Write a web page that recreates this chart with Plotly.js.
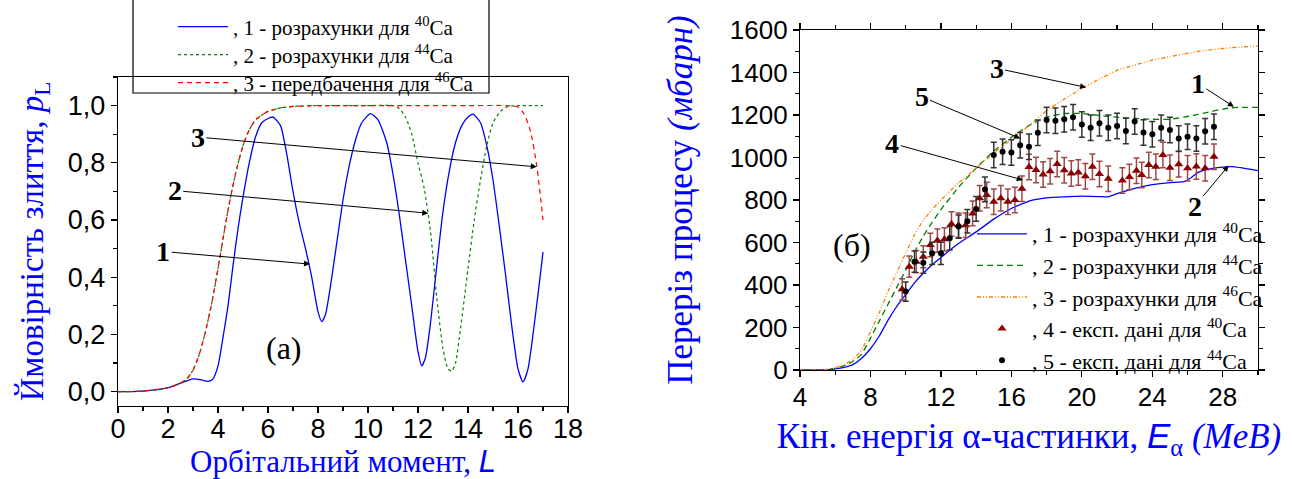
<!DOCTYPE html>
<html>
<head>
<meta charset="utf-8">
<script src="https://cdn.plot.ly/plotly-3.0.1.min.js"></script>
<style>
  html, body { margin: 0; padding: 0; background: #fff; }
  #chart { width: 1292px; height: 479px; }
</style>
</head>
<body>
<div id="chart"></div>
<script>
// ---- (а) fusion probability vs orbital momentum ----
const L_ca40 = [0, 0.5, 1.0, 1.5, 2.0, 2.5, 3.0, 3.3, 3.6, 3.8, 4.0, 4.2, 4.4, 4.6, 4.8, 5.0, 5.25, 5.5, 5.75, 6.0, 6.2, 6.5, 6.75, 7.0, 7.25, 7.5, 7.75, 8.0, 8.15, 8.3, 8.5, 8.75, 9.0, 9.25, 9.5, 9.75, 10.1, 10.4, 10.75, 11.0, 11.25, 11.5, 11.75, 12.0, 12.15, 12.3, 12.5, 12.75, 13.0, 13.25, 13.5, 13.75, 14.0, 14.2, 14.5, 14.75, 15.0, 15.25, 15.5, 15.75, 16.0, 16.2, 16.4, 16.6, 16.8, 17.0];
const p_ca40 = [0, 0.0005, 0.002, 0.006, 0.014, 0.03, 0.045, 0.042, 0.036, 0.045, 0.09, 0.19, 0.30, 0.44, 0.57, 0.68, 0.80, 0.89, 0.94, 0.955, 0.96, 0.93, 0.83, 0.70, 0.59, 0.50, 0.40, 0.28, 0.245, 0.27, 0.37, 0.52, 0.67, 0.79, 0.88, 0.94, 0.972, 0.95, 0.87, 0.76, 0.62, 0.46, 0.30, 0.14, 0.09, 0.12, 0.24, 0.44, 0.63, 0.77, 0.87, 0.93, 0.96, 0.97, 0.94, 0.86, 0.74, 0.58, 0.41, 0.23, 0.08, 0.034, 0.08, 0.20, 0.34, 0.488];

const L_ca44 = [0, 1.0, 2.0, 2.5, 2.75, 3.0, 3.25, 3.5, 3.75, 4.0, 4.25, 4.5, 4.75, 5.0, 5.25, 5.5, 6.0, 6.5, 7.0, 8.0, 9.0, 10.0, 11.0, 11.25, 11.5, 11.75, 12.0, 12.25, 12.5, 12.75, 13.0, 13.2, 13.35, 13.5, 13.7, 14.0, 14.25, 14.5, 14.75, 15.0, 15.3, 15.6, 16.0, 17.0];
const p_ca44 = [0, 0.002, 0.014, 0.03, 0.045, 0.075, 0.13, 0.21, 0.31, 0.43, 0.56, 0.68, 0.78, 0.86, 0.915, 0.95, 0.98, 0.992, 0.997, 1.0, 1.0, 1.0, 1.0, 0.99, 0.96, 0.90, 0.80, 0.71, 0.56, 0.33, 0.15, 0.08, 0.072, 0.10, 0.22, 0.43, 0.60, 0.74, 0.86, 0.94, 0.98, 0.997, 1.0, 1.0];

const L_ca46 = [0, 1.0, 2.0, 2.5, 2.75, 3.0, 3.25, 3.5, 3.75, 4.0, 4.25, 4.5, 4.75, 5.0, 5.25, 5.5, 6.0, 6.5, 7.0, 8.0, 10.0, 12.0, 14.0, 15.5, 16.0, 16.25, 16.5, 16.75, 17.0];
const p_ca46 = [0, 0.002, 0.014, 0.03, 0.045, 0.075, 0.13, 0.21, 0.31, 0.43, 0.56, 0.68, 0.78, 0.86, 0.915, 0.95, 0.98, 0.992, 0.997, 1.0, 1.0, 1.0, 1.0, 1.0, 0.995, 0.97, 0.91, 0.79, 0.60];

// ---- (б) fusion cross-section vs alpha energy ----
const E_calc = [4, 5, 5.5, 6, 6.5, 7, 7.5, 8, 8.5, 9, 9.5, 10, 10.5, 11, 11.5, 12, 13, 14, 15, 16, 17, 18, 19, 20, 21, 21.5, 22, 23, 24, 25, 25.8, 26.2, 26.6, 27, 28, 28.5, 29, 30];
const sigma_ca40 = [0, 0, 1, 5, 12, 25, 55, 100, 160, 235, 300, 355, 410, 455, 495, 530, 595, 650, 710, 760, 795, 810, 815, 818, 816, 815, 830, 855, 872, 882, 886, 905, 930, 942, 955, 957, 952, 938];
const sigma_ca44 = [0, 0, 2, 8, 20, 40, 75, 150, 230, 310, 390, 470, 555, 630, 695, 755, 860, 950, 1030, 1095, 1150, 1190, 1207, 1207, 1198, 1193, 1190, 1184, 1180, 1180, 1190, 1196, 1203, 1210, 1228, 1234, 1236, 1236];
const sigma_ca46 = [0, 0, 3, 10, 25, 50, 95, 180, 270, 370, 460, 550, 635, 705, 755, 800, 880, 950, 1020, 1085, 1150, 1220, 1275, 1325, 1370, 1390, 1410, 1435, 1458, 1475, 1487, 1493, 1499, 1504, 1513, 1517, 1520, 1525];

const E_exp40 = [9.8, 10.2, 10.6, 11.0, 11.4, 11.8, 12.2, 12.6, 13.0, 13.4, 13.8, 14.2, 14.6, 15.0, 15.4, 15.8, 16.2, 16.6, 17.0, 17.4, 17.8, 18.2, 18.6, 19.0, 19.4, 19.8, 20.2, 20.6, 21.0, 21.5, 22.3, 22.7, 23.1, 23.4, 23.8, 24.2, 24.6, 25.0, 25.5, 26.0, 26.5, 27.0, 27.5];
const sigma_exp40 = [380, 486, 510, 533, 588, 609, 615, 687, 681, 681, 737, 808, 823, 792, 808, 792, 800, 853, 955, 941, 920, 935, 970, 940, 925, 930, 912, 957, 922, 900, 892, 908, 938, 918, 965, 957, 1012, 952, 968, 950, 958, 949, 1004];
const err_exp40 = [50, 50, 52, 52, 55, 55, 55, 58, 58, 58, 58, 60, 60, 60, 60, 60, 60, 60, 60, 60, 60, 60, 60, 60, 60, 60, 60, 60, 60, 60, 60, 60, 60, 60, 60, 60, 60, 60, 60, 60, 60, 60, 60];

const E_exp44 = [10.0, 10.5, 11.0, 11.5, 12.0, 12.5, 13.0, 13.5, 14.0, 14.5, 15.0, 15.5, 16.0, 16.5, 17.0, 17.5, 18.0, 18.5, 19.0, 19.5, 20.0, 20.5, 21.0, 21.5, 22.0, 22.5, 23.0, 23.5, 24.0, 24.5, 25.0, 25.5, 26.0, 26.5, 27.0, 27.5];
const sigma_exp44 = [369, 510, 505, 549, 549, 620, 675, 700, 758, 850, 1012, 1027, 1023, 1058, 1051, 1117, 1176, 1173, 1180, 1189, 1155, 1140, 1161, 1140, 1148, 1125, 1169, 1118, 1109, 1140, 1129, 1090, 1098, 1089, 1124, 1145];
const err_exp44 = [45, 50, 50, 52, 52, 55, 55, 55, 58, 58, 60, 60, 60, 60, 60, 60, 60, 60, 60, 60, 60, 60, 60, 60, 60, 60, 60, 60, 60, 60, 60, 60, 60, 60, 60, 60];

const W = 1292, H = 479;
const fx = v => v / W;          // pixel -> paper x
const fy = v => 1 - v / H;      // pixel -> paper y

const SERIF = 'Liberation Serif, Times New Roman, serif';
const SANS = 'Liberation Sans, Arial, sans-serif';
const BLUE = '#0000ff';

const traces = [
  { x: L_ca40, y: p_ca40, xaxis: 'x', yaxis: 'y', mode: 'lines', line: { color: '#0000ff', width: 1.3, shape: 'spline', smoothing: 0.6 },
    name: ', 1 - розрахунки для <sup>40</sup>Ca', legend: 'legend' },
  { x: L_ca44, y: p_ca44, xaxis: 'x', yaxis: 'y', mode: 'lines', line: { color: '#008000', width: 1.2, dash: '3px,3px', shape: 'spline', smoothing: 0.6 },
    name: ', 2 - розрахунки для <sup>44</sup>Ca', legend: 'legend3' },
  { x: L_ca46, y: p_ca46, xaxis: 'x', yaxis: 'y', mode: 'lines', line: { color: '#ff0000', width: 1.2, dash: '5px,4px', shape: 'spline', smoothing: 0.6 },
    name: ', 3 - передбачення для <sup>46</sup>Ca', legend: 'legend4' },

  { x: E_calc, y: sigma_ca40, xaxis: 'x2', yaxis: 'y2', mode: 'lines', line: { color: '#0000ff', width: 1.3, shape: 'spline', smoothing: 0.4 },
    name: ', 1 - розрахунки для <sup>40</sup>Ca', legend: 'legend2' },
  { x: E_calc, y: sigma_ca44, xaxis: 'x2', yaxis: 'y2', mode: 'lines', line: { color: '#008000', width: 1.3, dash: '6px,4px', shape: 'spline', smoothing: 0.4 },
    name: ', 2 - розрахунки для <sup>44</sup>Ca', legend: 'legend2' },
  { x: E_calc, y: sigma_ca46, xaxis: 'x2', yaxis: 'y2', mode: 'lines', line: { color: '#ff8000', width: 1.3, dash: '4px,2px,1px,2px,1px,2px', shape: 'spline', smoothing: 0.4 },
    name: ', 3 - розрахунки для <sup>46</sup>Ca', legend: 'legend2' },
  { x: E_exp40, y: sigma_exp40, xaxis: 'x2', yaxis: 'y2', mode: 'markers',
    marker: { symbol: 'triangle-up', size: 8, color: '#8b0000' },
    error_y: { type: 'data', array: err_exp40, visible: true, color: '#a04848', thickness: 1.5, width: 3 },
    name: ', 4 - експ. дані для <sup>40</sup>Ca', legend: 'legend2' },
  { x: E_exp44, y: sigma_exp44, xaxis: 'x2', yaxis: 'y2', mode: 'markers',
    marker: { symbol: 'circle', size: 6, color: '#000000' },
    error_y: { type: 'data', array: err_exp44, visible: true, color: '#333333', thickness: 1.5, width: 3 },
    name: ', 5 - експ. дані для <sup>44</sup>Ca', legend: 'legend2' }
];

function axisBase(tickSize) {
  return {
    showline: true, linecolor: '#000', linewidth: 1.2, mirror: true,
    showgrid: false, zeroline: false,
    ticks: 'outside', ticklen: 6, tickwidth: 1.2, tickcolor: '#000',
    tickfont: { family: SANS, size: tickSize, color: '#000' }
  };
}

function arrowNote(xref, yref, text, tx, ty, hx, hy) {
  return {
    xref: xref, yref: yref, axref: xref, ayref: yref,
    x: hx, y: hy, ax: tx, ay: ty,
    text: '<b>' + text + '</b>', font: { family: SERIF, size: 28, color: '#000' },
    showarrow: true, arrowhead: 2, arrowsize: 1.2, arrowwidth: 1, arrowcolor: '#000'
  };
}

function smallLegend(yPix) {
  return {
    x: fx(173), y: fy(yPix), xanchor: 'left', yanchor: 'middle',
    bgcolor: 'rgba(0,0,0,0)', borderwidth: 0,
    font: { family: SERIF, size: 21, color: '#000' },
    itemwidth: 50
  };
}

const layout = {
  width: W, height: H,
  margin: { l: 0, r: 0, t: 0, b: 0 },
  paper_bgcolor: '#fff', plot_bgcolor: '#fff',
  separators: ', ',
  showlegend: true,
  xaxis: Object.assign(axisBase(27), {
    domain: [fx(118), fx(568)], anchor: 'y', range: [0, 18], dtick: 2, tick0: 0,
    ticklabelstandoff: -8,
    minor: { dtick: 1, ticklen: 4, ticks: 'outside', tickcolor: '#000' },
    title: { text: 'Орбітальний момент, <i><span style="font-family:Liberation Sans">L</span></i>',
             font: { family: SERIF, size: 31, color: BLUE }, standoff: 14 }
  }),
  yaxis: Object.assign(axisBase(27), {
    domain: [fy(406), fy(77)], anchor: 'x', range: [-0.05, 1.1], dtick: 0.2, tick0: 0, tickformat: '.1f',
    minor: { dtick: 0.1, ticklen: 4, ticks: 'outside', tickcolor: '#000' },
    title: { text: 'Ймовірність злиття, <i>p</i><sub>L</sub>',
             font: { family: SERIF, size: 33, color: BLUE }, standoff: 14 }
  }),
  xaxis2: Object.assign(axisBase(26), {
    domain: [fx(800), fx(1258)], anchor: 'y2', range: [4, 30], dtick: 4, tick0: 4, mirror: 'ticks',
    ticklabelstandoff: -2,
    minor: { dtick: 2, ticklen: 4, ticks: 'outside', tickcolor: '#000' },
    title: { text: 'Кін. енергія α-частинки, <i><span style="font-family:Liberation Sans">E</span></i><sub>α</sub> <i>(MeB)</i>',
             font: { family: SERIF, size: 35, color: BLUE }, standoff: 12 }
  }),
  yaxis2: Object.assign(axisBase(26), {
    domain: [fy(370), fy(30)], anchor: 'x2', range: [0, 1600], dtick: 200, tick0: 0, mirror: 'ticks',
    minor: { dtick: 100, ticklen: 4, ticks: 'outside', tickcolor: '#000' },
    title: { text: 'Переріз процесу <i>(мбарн)</i>',
             font: { family: SERIF, size: 35, color: BLUE }, standoff: 26 }
  }),
  legend: smallLegend(27),
  legend3: smallLegend(55),
  legend4: smallLegend(83),
  legend2: {
    x: fx(972), y: fy(213), xanchor: 'left', yanchor: 'top',
    bgcolor: 'rgba(0,0,0,0)', borderwidth: 0,
    font: { family: SERIF, size: 22, color: '#000' },
    itemwidth: 50, tracegroupgap: 0
  },
  shapes: [
    // frame around the legend of panel (а)
    { type: 'rect', xref: 'paper', yref: 'paper', x0: fx(133), x1: fx(489), y0: fy(93), y1: fy(-10),
      line: { color: '#000', width: 1.2 }, fillcolor: 'rgba(0,0,0,0)' }
  ],
  annotations: [
    arrowNote('x', 'y', '3', 3.19, 0.89, 16.75, 0.786),
    arrowNote('x', 'y', '2', 2.27, 0.703, 12.41, 0.624),
    arrowNote('x', 'y', '1', 1.81, 0.49, 7.68, 0.446),
    { xref: 'x', yref: 'y', x: 6.62, y: 0.153, text: '(а)', showarrow: false,
      font: { family: SERIF, size: 32, color: '#000' } },

    arrowNote('x2', 'y2', '3', 15.16, 1420, 20.24, 1330),
    arrowNote('x2', 'y2', '1', 26.58, 1349, 28.63, 1239),
    arrowNote('x2', 'y2', '5', 10.9, 1286, 16.5, 1090),
    arrowNote('x2', 'y2', '4', 9.25, 1067, 16.65, 894),
    arrowNote('x2', 'y2', '2', 26.4, 770, 28.33, 962),
    { xref: 'x2', yref: 'y2', x: 6.95, y: 588, text: '(б)', showarrow: false,
      font: { family: SERIF, size: 32, color: '#000' } }
  ]
};

Plotly.newPlot('chart', traces, layout, { staticPlot: true, displayModeBar: false });
</script>
</body>
</html>
